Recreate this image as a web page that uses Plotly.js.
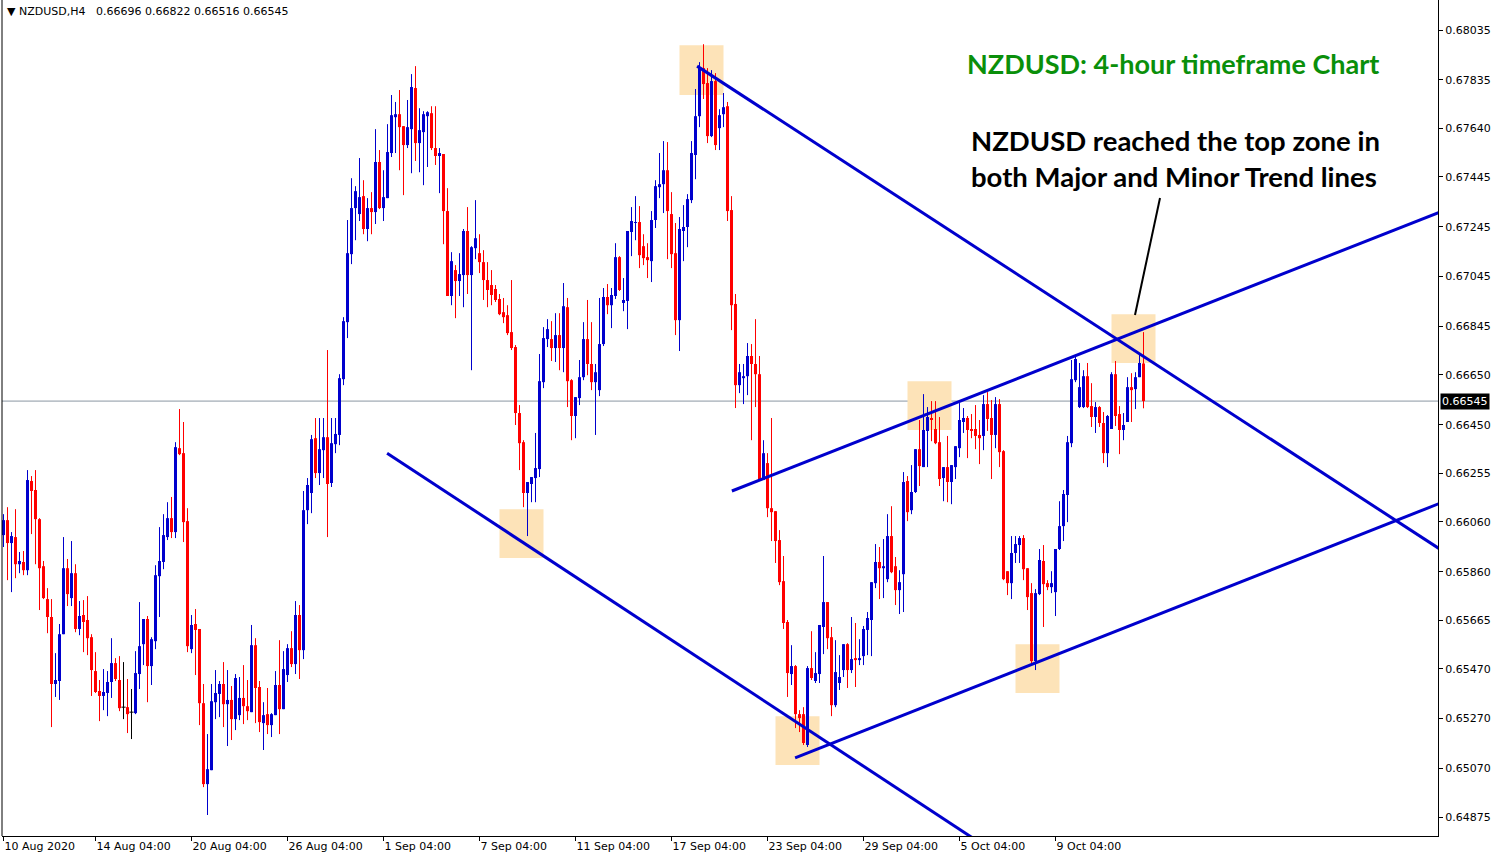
<!DOCTYPE html>
<html><head><meta charset="utf-8">
<script src="https://cdn.plot.ly/plotly-3.0.1.min.js"></script>
<style>html,body{margin:0;padding:0;background:#fff}#chart{width:1502px;height:860px}</style>
</head><body><div id="chart"></div>
<script>
const symbolName = "NZDUSD,H4";
const titleText = "NZDUSD: 4-hour timeframe Chart";
const noteText = ["NZDUSD reached the top zone in", "both Major and Minor Trend lines"];

const open = [
0.66007,0.66067,0.65975,0.65999,0.65890,0.65899,0.65866,0.66224,0.66188,0.66071,
0.65882,0.65750,0.65678,0.65409,0.65421,0.65609,0.65874,0.65754,0.65854,0.65630,
0.65686,0.65666,0.65597,0.65461,0.65381,0.65361,0.65373,0.65417,0.65493,0.65425,
0.65316,0.65316,0.65296,0.65292,0.65449,0.65569,0.65670,0.65481,0.65581,0.65842,
0.65899,0.65999,0.66075,0.66019,0.66356,0.66336,0.66063,0.65549,0.65650,0.65630,
0.65332,0.65007,0.65063,0.65336,0.65369,0.65409,0.65328,0.65345,0.65268,0.65284,
0.65353,0.65320,0.65296,0.65565,0.65397,0.65252,0.65288,0.65244,0.65284,0.65405,
0.65308,0.65445,0.65553,0.65489,0.65686,0.65545,0.66107,0.66176,0.66396,0.66256,
0.66348,0.66400,0.66216,0.66372,0.66409,0.66633,0.66862,0.67135,0.67320,0.67296,
0.67368,0.67236,0.67320,0.67304,0.67505,0.67320,0.67360,0.67541,0.67685,0.67697,
0.67649,0.67573,0.67637,0.67802,0.67581,0.67625,0.67689,0.67701,0.67561,0.67529,
0.67537,0.67308,0.66967,0.67071,0.67027,0.67051,0.67228,0.67051,0.67159,0.67139,
0.67103,0.67031,0.67011,0.66995,0.66955,0.66902,0.66890,0.66822,0.66762,0.66497,
0.66380,0.66176,0.66212,0.66236,0.66272,0.66621,0.66794,0.66794,0.66758,0.66810,
0.66758,0.66922,0.66629,0.66485,0.66557,0.66641,0.66794,0.66694,0.66621,0.66589,
0.66774,0.66963,0.66930,0.66967,0.67123,0.66939,0.66947,0.67224,0.67260,0.67264,
0.67167,0.67123,0.67107,0.67272,0.67404,0.67416,0.67472,0.67296,0.67139,0.66870,
0.67228,0.67244,0.67352,0.67533,0.67689,0.67882,0.67822,0.67609,0.67830,0.67641,
0.67697,0.67729,0.67312,0.66935,0.66609,0.66637,0.66645,0.66726,0.66694,0.66653,
0.66228,0.66296,0.66115,0.66103,0.65987,0.65822,0.65658,0.65449,0.65481,0.65288,
0.65288,0.65164,0.65473,0.65421,0.65449,0.65638,0.65738,0.65597,0.65324,0.65413,
0.65465,0.65569,0.65465,0.65513,0.65505,0.65521,0.65626,0.65666,0.65814,0.65899,
0.65874,0.65830,0.66003,0.65882,0.65786,0.65850,0.66224,0.66107,0.66180,0.66352,
0.66280,0.66425,0.66477,0.66433,0.66380,0.66236,0.66280,0.66220,0.66280,0.66356,
0.66461,0.66477,0.66433,0.66433,0.66409,0.66405,0.66533,0.66477,0.66409,0.66533,
0.66344,0.65862,0.65814,0.65935,0.65967,0.65995,0.65874,0.65774,0.65501,0.65770,
0.65903,0.65814,0.65798,0.65778,0.65951,0.66043,0.66168,0.66376,0.66629,0.66521,
0.66521,0.66645,0.66525,0.66481,0.66521,0.66457,0.66336,0.66433,0.66653,0.66493,
0.66429,0.66461,0.66601,0.66593,0.66641,0.66696];
const high = [
0.66091,0.66119,0.66019,0.66111,0.65939,0.65943,0.66268,0.66244,0.66268,0.66075,
0.65903,0.65794,0.65750,0.65533,0.65650,0.65999,0.65911,0.65983,0.65890,0.65742,
0.65746,0.65762,0.65609,0.65537,0.65425,0.65469,0.65461,0.65593,0.65513,0.65521,
0.65497,0.65429,0.65389,0.65541,0.65738,0.65670,0.65682,0.65597,0.65886,0.66039,
0.66091,0.66139,0.66160,0.66380,0.66513,0.66461,0.66115,0.65686,0.65710,0.65630,
0.65409,0.65208,0.65409,0.65465,0.65421,0.65497,0.65465,0.65401,0.65449,0.65437,
0.65485,0.65425,0.65646,0.65593,0.65421,0.65336,0.65393,0.65292,0.65461,0.65585,
0.65541,0.65569,0.65621,0.65742,0.65726,0.66184,0.66236,0.66409,0.66477,0.66477,
0.66477,0.66750,0.66477,0.66477,0.66653,0.66882,0.67272,0.67440,0.67408,0.67521,
0.67432,0.67360,0.67384,0.67637,0.67553,0.67472,0.67657,0.67774,0.67746,0.67794,
0.67649,0.67754,0.67858,0.67890,0.67721,0.67709,0.67709,0.67729,0.67729,0.67561,
0.67537,0.67400,0.67143,0.67091,0.67139,0.67236,0.67324,0.67167,0.67352,0.67215,
0.67151,0.67103,0.67071,0.67011,0.66975,0.66959,0.66930,0.67031,0.66770,0.66529,
0.66388,0.66220,0.66240,0.66417,0.66734,0.66842,0.66874,0.66866,0.66898,0.66898,
0.67019,0.66959,0.66633,0.66561,0.66710,0.66862,0.66951,0.66862,0.66694,0.66959,
0.66999,0.67015,0.66999,0.67179,0.67127,0.67039,0.67228,0.67324,0.67368,0.67328,
0.67215,0.67179,0.67308,0.67432,0.67541,0.67589,0.67585,0.67384,0.67260,0.67284,
0.67332,0.67376,0.67589,0.67798,0.67906,0.67978,0.67882,0.67874,0.67862,0.67717,
0.67782,0.67746,0.67368,0.66975,0.66694,0.66694,0.66778,0.66774,0.66874,0.66726,
0.66388,0.66336,0.66477,0.66103,0.66027,0.65923,0.65666,0.65565,0.65485,0.65304,
0.65316,0.65481,0.65621,0.65537,0.65646,0.65923,0.65738,0.65638,0.65585,0.65525,
0.65569,0.65573,0.65678,0.65654,0.65589,0.65642,0.65698,0.65818,0.65971,0.65959,
0.65991,0.66091,0.66123,0.65919,0.65866,0.66260,0.66244,0.66288,0.66352,0.66469,
0.66573,0.66521,0.66545,0.66545,0.66481,0.66280,0.66405,0.66288,0.66364,0.66537,
0.66517,0.66485,0.66493,0.66529,0.66469,0.66569,0.66581,0.66549,0.66561,0.66553,
0.66348,0.65862,0.66003,0.66003,0.66003,0.66007,0.65874,0.65814,0.65790,0.65951,
0.65967,0.65826,0.65862,0.65951,0.66143,0.66188,0.66405,0.66710,0.66722,0.66698,
0.66669,0.66698,0.66617,0.66541,0.66525,0.66501,0.66489,0.66661,0.66706,0.66525,
0.66497,0.66641,0.66657,0.66661,0.66730,0.66822];
const low = [
0.65959,0.65826,0.65778,0.65834,0.65854,0.65846,0.65846,0.66011,0.65890,0.65706,
0.65750,0.65613,0.65236,0.65357,0.65345,0.65609,0.65722,0.65722,0.65617,0.65605,
0.65537,0.65525,0.65361,0.65373,0.65260,0.65304,0.65280,0.65353,0.65421,0.65300,
0.65268,0.65212,0.65188,0.65288,0.65389,0.65485,0.65336,0.65405,0.65549,0.65678,
0.65870,0.65987,0.65995,0.65995,0.66328,0.65979,0.65537,0.65533,0.65445,0.65244,
0.64995,0.64883,0.65063,0.65268,0.65276,0.65236,0.65160,0.65184,0.65224,0.65264,
0.65248,0.65264,0.65296,0.65252,0.65216,0.65144,0.65208,0.65196,0.65284,0.65208,
0.65308,0.65417,0.65477,0.65449,0.65429,0.65509,0.66051,0.66095,0.66236,0.66208,
0.66236,0.65999,0.66200,0.66336,0.66368,0.66609,0.66798,0.67095,0.67191,0.67268,
0.67215,0.67187,0.67215,0.67256,0.67316,0.67268,0.67360,0.67525,0.67541,0.67472,
0.67372,0.67561,0.67460,0.67509,0.67464,0.67412,0.67485,0.67553,0.67493,0.67380,
0.67175,0.66967,0.66930,0.66878,0.66967,0.66922,0.66975,0.66669,0.67115,0.67059,
0.66951,0.66922,0.66930,0.66943,0.66890,0.66858,0.66810,0.66750,0.66449,0.66268,
0.66119,0.66003,0.66139,0.66139,0.66240,0.66597,0.66762,0.66706,0.66702,0.66669,
0.66661,0.66521,0.66388,0.66396,0.66529,0.66629,0.66649,0.66589,0.66409,0.66565,
0.66766,0.66894,0.66838,0.66955,0.66987,0.66906,0.66834,0.67127,0.67191,0.67079,
0.67091,0.67039,0.67023,0.67240,0.67360,0.67300,0.67115,0.67079,0.66810,0.66746,
0.67107,0.67163,0.67340,0.67436,0.67645,0.67758,0.67581,0.67605,0.67553,0.67553,
0.67645,0.67268,0.66830,0.66517,0.66577,0.66533,0.66569,0.66388,0.66521,0.66228,
0.66228,0.66079,0.65983,0.65895,0.65806,0.65630,0.65357,0.65405,0.65232,0.65216,
0.65164,0.65156,0.65425,0.65413,0.65413,0.65529,0.65549,0.65280,0.65316,0.65385,
0.65437,0.65393,0.65453,0.65397,0.65485,0.65485,0.65525,0.65521,0.65794,0.65750,
0.65754,0.65818,0.65854,0.65726,0.65690,0.65698,0.66063,0.66091,0.66176,0.66204,
0.66280,0.66280,0.66384,0.66372,0.66204,0.66143,0.66139,0.66131,0.66232,0.66320,
0.66417,0.66316,0.66396,0.66352,0.66292,0.66348,0.66425,0.66232,0.66356,0.66280,
0.65826,0.65766,0.65750,0.65895,0.65895,0.65826,0.65706,0.65493,0.65465,0.65766,
0.65638,0.65786,0.65774,0.65682,0.65947,0.65983,0.66059,0.66360,0.66621,0.66517,
0.66517,0.66517,0.66441,0.66417,0.66441,0.66296,0.66280,0.66433,0.66445,0.66332,
0.66388,0.66461,0.66461,0.66513,0.66641,0.66516];
const close = [
0.66067,0.65975,0.66003,0.65890,0.65903,0.65866,0.66228,0.66184,0.66071,0.65874,
0.65754,0.65678,0.65409,0.65425,0.65609,0.65874,0.65770,0.65854,0.65630,0.65682,
0.65658,0.65593,0.65465,0.65377,0.65361,0.65377,0.65417,0.65493,0.65429,0.65312,
0.65316,0.65288,0.65296,0.65453,0.65561,0.65670,0.65481,0.65589,0.65846,0.65903,
0.66007,0.66075,0.66019,0.66360,0.66332,0.66059,0.65561,0.65646,0.65626,0.65332,
0.65007,0.65067,0.65340,0.65373,0.65409,0.65328,0.65345,0.65268,0.65433,0.65353,
0.65320,0.65300,0.65565,0.65393,0.65256,0.65284,0.65244,0.65288,0.65405,0.65308,
0.65469,0.65553,0.65489,0.65686,0.65545,0.66107,0.66208,0.66392,0.66256,0.66352,
0.66400,0.66212,0.66376,0.66413,0.66637,0.66866,0.67139,0.67320,0.67388,0.67364,
0.67236,0.67320,0.67304,0.67505,0.67320,0.67364,0.67545,0.67693,0.67697,0.67645,
0.67573,0.67645,0.67806,0.67581,0.67633,0.67697,0.67705,0.67561,0.67529,0.67541,
0.67308,0.66967,0.67107,0.67027,0.67055,0.67228,0.67051,0.67163,0.67199,0.67103,
0.67031,0.66991,0.66971,0.66951,0.66894,0.66882,0.66818,0.66758,0.66497,0.66376,
0.66176,0.66220,0.66240,0.66276,0.66625,0.66798,0.66834,0.66758,0.66810,0.66758,
0.66926,0.66625,0.66485,0.66561,0.66641,0.66794,0.66694,0.66621,0.66661,0.66774,
0.66963,0.66930,0.66971,0.67123,0.66991,0.66951,0.67228,0.67268,0.67264,0.67131,
0.67119,0.67111,0.67272,0.67408,0.67416,0.67472,0.67308,0.67135,0.66870,0.67236,
0.67244,0.67356,0.67541,0.67689,0.67882,0.67818,0.67609,0.67830,0.67573,0.67693,
0.67725,0.67308,0.66930,0.66609,0.66661,0.66645,0.66726,0.66694,0.66653,0.66228,
0.66336,0.66115,0.66099,0.65983,0.65818,0.65654,0.65453,0.65481,0.65288,0.65272,
0.65172,0.65473,0.65433,0.65453,0.65646,0.65738,0.65593,0.65324,0.65457,0.65437,
0.65569,0.65465,0.65509,0.65505,0.65513,0.65630,0.65674,0.65818,0.65899,0.65874,
0.65882,0.66003,0.65858,0.65786,0.65818,0.66220,0.66099,0.66180,0.66352,0.66284,
0.66429,0.66481,0.66469,0.66376,0.66232,0.66280,0.66220,0.66288,0.66364,0.66469,
0.66477,0.66429,0.66425,0.66405,0.66396,0.66533,0.66473,0.66409,0.66533,0.66340,
0.65830,0.65814,0.65935,0.65971,0.65995,0.65870,0.65758,0.65501,0.65774,0.65907,
0.65810,0.65798,0.65814,0.65951,0.66043,0.66172,0.66380,0.66633,0.66714,0.66601,
0.66645,0.66521,0.66481,0.66521,0.66457,0.66336,0.66485,0.66653,0.66485,0.66429,
0.66449,0.66601,0.66589,0.66641,0.66698,0.66545];

const dateTickIndex = [0, 23, 47, 71, 95, 119, 143, 167, 191, 215, 239, 263];
const dateTickText = ["10 Aug 2020","14 Aug 04:00","20 Aug 04:00","26 Aug 04:00","1 Sep 04:00","7 Sep 04:00","11 Sep 04:00","17 Sep 04:00","23 Sep 04:00","29 Sep 04:00","5 Oct 04:00","9 Oct 04:00"];
const priceTicks = [0.68035,0.67835,0.67640,0.67445,0.67245,0.67045,0.66845,0.66650,0.66450,0.66255,0.66060,0.65860,0.65665,0.65470,0.65270,0.65070,0.64875];

// trend lines (bar index, price)
const majorUpperX = [173.4, 374.1], majorUpperY = [0.67890, 0.65794];
const majorLowerX = [95.9, 249.1],  majorLowerY = [0.66336, 0.64719];
const minorUpperX = [182.1, 374.1], minorUpperY = [0.66184, 0.67399];
const minorLowerX = [197.9, 374.1], minorLowerY = [0.65112, 0.66230];

// highlighted zones (bar index, price)
const zoneStart = [169, 124, 193, 226, 253, 277];
const zoneEnd   = [180, 135, 204, 237, 264, 288];
const zoneLow   = [0.67774, 0.65915, 0.65084, 0.66429, 0.65373, 0.66698];
const zoneHigh  = [0.67974, 0.66111, 0.65280, 0.66625, 0.65569, 0.66894];

const BLUE = '#0000cd', RED = '#ff0000', DOJI = '#000000', LINE = '#0000cd';
const n = open.length;
const groups = {
  up: {c: BLUE, x: [], base: [], h: [], wx: [], wy: []},
  dn: {c: RED, x: [], base: [], h: [], wx: [], wy: []},
  dj: {c: DOJI, x: [], base: [], h: [], wx: [], wy: []}
};
for (let i = 0; i < n; i++) {
  const o = open[i], c = close[i];
  const g = c > o ? groups.up : (c < o ? groups.dn : groups.dj);
  g.x.push(i); g.base.push(Math.min(o, c)); g.h.push(Math.max(Math.abs(c - o), 0.00003));
  g.wx.push(i, i, null); g.wy.push(low[i], high[i], null);
}
const traces = [];
['up', 'dn', 'dj'].forEach(k => {
  const g = groups[k];
  traces.push({type: 'scatter', mode: 'lines', x: g.wx, y: g.wy, line: {color: g.c, width: 1}, hoverinfo: 'skip', showlegend: false});
  if (k !== 'dj') {
    traces.push({type: 'bar', x: g.x, base: g.base, y: g.h, width: 0.75, marker: {color: g.c, line: {width: 0}}, hoverinfo: 'skip', showlegend: false});
  } else {
    traces.push({type: 'scatter', mode: 'markers', x: g.x, y: g.base, marker: {symbol: 'line-ew', size: 3, line: {color: DOJI, width: 1}}, hoverinfo: 'skip', showlegend: false});
  }
});
[[majorUpperX, majorUpperY], [majorLowerX, majorLowerY], [minorUpperX, minorUpperY], [minorLowerX, minorLowerY]].forEach(([x, y]) => {
  traces.push({type: 'scatter', mode: 'lines', x: x, y: y, line: {color: LINE, width: 3}, hoverinfo: 'skip', showlegend: false});
});

const W = 1502, H = 860, ML = 2, MR = 64, MT = 0, MB = 24;
const PW = W - ML - MR, PH = H - MT - MB;
const px = v => (v - ML) / PW;       // page pixel -> paper x (for text placement)
const py = v => 1 - (v - MT) / PH;   // page pixel -> paper y

const shapes = [];
for (let i = 0; i < zoneStart.length; i++) {
  shapes.push({type: 'rect', xref: 'x', yref: 'y', x0: zoneStart[i], x1: zoneEnd[i], y0: zoneLow[i], y1: zoneHigh[i], fillcolor: '#fde3b8', line: {width: 0}, layer: 'below'});
}
const last = n - 1;
shapes.push({type: 'line', xref: 'paper', yref: 'y', x0: 0, x1: 1, y0: close[last], y1: close[last], line: {color: '#8a96a3', width: 1}, layer: 'below'});
shapes.push({type: 'line', xref: 'paper', yref: 'paper', x0: 0, x1: 0, y0: 0, y1: 1, line: {color: '#000', width: 1}});
shapes.push({type: 'line', xref: 'paper', yref: 'paper', x0: px(1160), y0: py(198), x1: px(1135), y1: py(315), line: {color: '#000', width: 2}});

const f5 = v => v.toFixed(5);
const annotations = [
  {xref: 'paper', yref: 'paper', x: px(5), y: py(12), xanchor: 'left', yanchor: 'middle', showarrow: false,
   text: '▼ ' + symbolName + '\u00a0\u00a0 ' + [open[last], high[last], low[last], close[last]].map(f5).join(' '),
   font: {family: 'DejaVu Sans, sans-serif', size: 11, color: '#000'}},
  {xref: 'paper', yref: 'paper', x: px(965), y: py(63), xanchor: 'left', yanchor: 'middle', showarrow: false,
   text: '<b>' + titleText + '</b>', font: {family: 'Lato, sans-serif', size: 27, color: '#0a8f0a'}},
  {xref: 'paper', yref: 'paper', x: px(969), y: py(159), xanchor: 'left', yanchor: 'middle', align: 'left', showarrow: false,
   text: '<b>' + noteText.join('<br>') + '</b>', font: {family: 'Lato, sans-serif', size: 27.5, color: '#000'}},
  {xref: 'paper', yref: 'y', x: 1, y: close[last], xanchor: 'left', yanchor: 'middle', xshift: 2, showarrow: false,
   text: f5(close[last]), bgcolor: '#000', borderpad: 1, font: {family: 'DejaVu Sans, sans-serif', size: 11, color: '#fff'}}
];

const yTop = 0.681555, yBot = 0.647987;
const layout = {
  width: W, height: H,
  margin: {l: ML, r: MR, t: MT, b: MB, pad: 0},
  paper_bgcolor: '#fff', plot_bgcolor: '#fff',
  showlegend: false, hovermode: false, barmode: 'overlay',
  font: {family: 'DejaVu Sans, sans-serif', size: 11, color: '#000'},
  xaxis: {type: 'linear', range: [-0.375, 358.625], showgrid: false, zeroline: false,
    showline: true, linecolor: '#000', linewidth: 1,
    tickmode: 'array', tickvals: dateTickIndex, ticktext: dateTickText,
    ticks: 'outside', ticklen: 4, tickcolor: '#000', ticklabelposition: 'outside right',
    tickfont: {family: 'DejaVu Sans, sans-serif', size: 11, color: '#000'}},
  yaxis: {side: 'right', range: [yBot, yTop], showgrid: false, zeroline: false,
    showline: true, linecolor: '#000', linewidth: 1,
    tickmode: 'array', tickvals: priceTicks, ticktext: priceTicks.map(f5),
    ticks: 'outside', ticklen: 4, tickcolor: '#000',
    tickfont: {family: 'DejaVu Sans, sans-serif', size: 11, color: '#000'}},
  shapes: shapes, annotations: annotations
};
Plotly.newPlot('chart', traces, layout, {staticPlot: true, displayModeBar: false});
</script></body></html>
